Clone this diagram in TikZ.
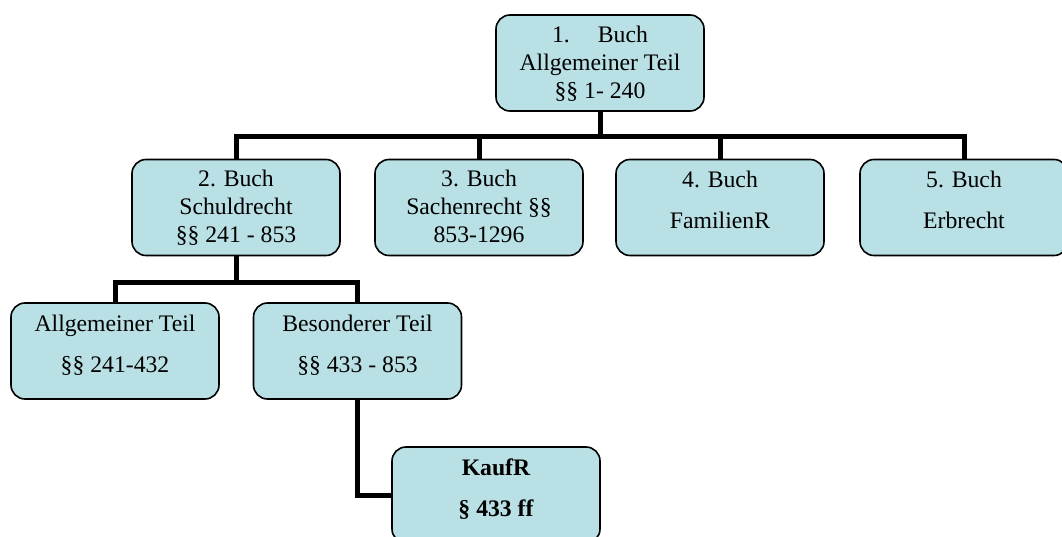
\documentclass[tikz,border=0pt]{standalone}
\usepackage{fontspec}
\setmainfont{Liberation Serif}
\definecolor{boxfill}{RGB}{185,224,228}
% struts that fix the first baseline and the block depth inside a box
\newcommand\bkhi{\rule{0pt}{20pt}}
\newcommand\bklo[1]{\rule[-#1]{0pt}{#1}}
\tikzset{
  bookbox/.style={draw=black, line width=1.6pt, rounded corners=14pt, fill=boxfill,
    minimum width=208pt, minimum height=96pt, inner sep=0pt, align=center,
    font=\fontsize{23.7}{28}\selectfont},
  link/.style={draw=black, line width=5pt, line join=miter}
}
\begin{document}
\begin{tikzpicture}[x=1pt,y=-1pt]
  \useasboundingbox (0,0) rectangle (1062,537);
  \clip (0,0) rectangle (1062,537);
  % books of the code
  \node[bookbox] (b1) at (600,63) {\bkhi 1.\hspace{28pt}Buch\\Allgemeiner Teil\\§§ 1- 240\bklo{5pt}};
  \node[bookbox] (b2) at (236,207.5) {\bkhi 2. Buch\\Schuldrecht\\§§ 241 - 853\bklo{5pt}};
  \node[bookbox] (b3) at (479,207.5) {\bkhi 3. Buch\\Sachenrecht §§\\853-1296\bklo{5pt}};
  \node[bookbox] (b4) at (720,207.5) {\bkhi 4. Buch\\[13pt]FamilienR\bklo{19pt}};
  \node[bookbox] (b5) at (964,207.5) {\bkhi 5. Buch\\[13pt]Erbrecht\bklo{19pt}};
  % parts of the law of obligations
  \node[bookbox] (ba) at (115,351) {\bkhi Allgemeiner Teil\\[13pt]§§ 241-432\bklo{19pt}};
  \node[bookbox] (bb) at (357.5,351) {\bkhi Besonderer Teil\\[13pt]§§ 433 - 853\bklo{19pt}};
  \node[bookbox, font=\fontsize{23.7}{28}\selectfont\bfseries] (kr) at (496,495)
    {\bkhi KaufR\\[13pt]§ 433 ff\bklo{19pt}};
  % junctions
  \coordinate (j1) at (600,137);
  \coordinate (j2) at (236,282);
  % connectors
  \draw[link] (b1.south) -- (j1);
  \draw[link] (b2.north) |- (j1) -| (b5.north);
  \draw[link] (b3.north) -- (b3.north |- j1);
  \draw[link] (b4.north) -- (b4.north |- j1);
  \draw[link] (b2.south) -- (j2);
  \draw[link] (ba.north) |- (j2) -| (bb.north);
  \draw[link] (bb.south) |- (kr.west);
\end{tikzpicture}
\end{document}
